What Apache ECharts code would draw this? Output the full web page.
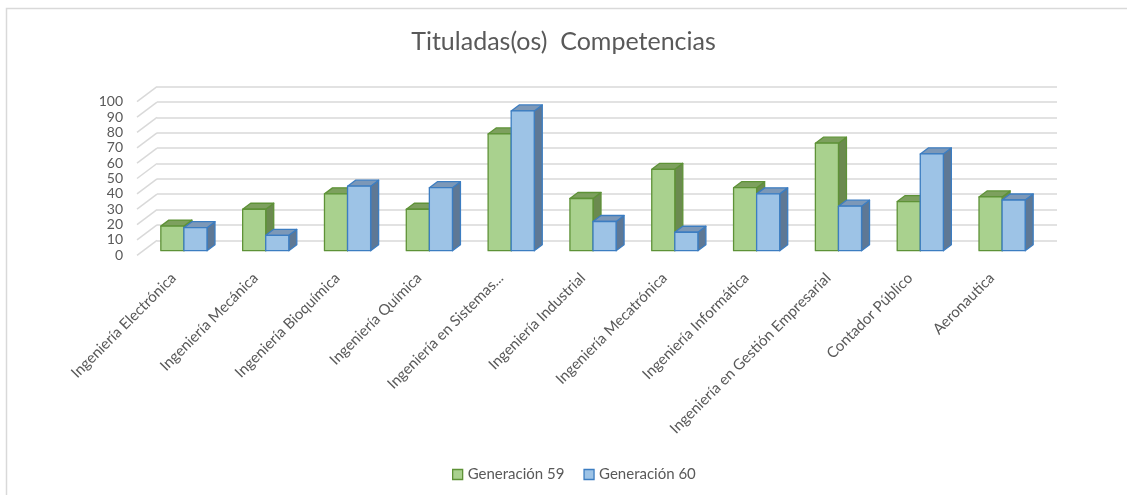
<!DOCTYPE html>
<html>
<head>
<meta charset="utf-8">
<script src="https://cdn.jsdelivr.net/npm/echarts@6/dist/echarts.min.js"></script>
<style>
html,body{margin:0;padding:0;background:#fff;}
#chart{width:1127px;height:495px;}
</style>
</head>
<body>
<div id="chart"></div>
<script>
const categories = [
  'Ingeniería Electrónica', 'Ingeniería Mecánica', 'Ingeniería Bioquímica', 'Ingeniería Química',
  'Ingeniería en Sistemas...', 'Ingeniería Industrial', 'Ingeniería Mecatrónica', 'Ingeniería Informática',
  'Ingeniería en Gestión Empresarial', 'Contador Público', 'Aeronautica'
];
const gen59 = [16, 27, 37, 27, 76, 34, 53, 41, 70, 32, 35];
const gen60 = [15, 10, 42, 41, 91, 19, 12, 37, 29, 63, 33];
const seriesNames = ['Generación 59', 'Generación 60'];
const yTicks = [0, 10, 20, 30, 40, 50, 60, 70, 80, 90, 100];

const FONT = 'Lato';
const TXT = '#595959';
const GRID_C = '#D9D9D9';
const DEPTH_X = 8, DEPTH_Y = 6;
const BAR_FRAC = 0.282;

const palettes = [
  { front: '#A9D18E', top: '#7DA05E', side: '#6B8A4F', border: '#5E9237' },
  { front: '#9DC3E6', top: '#7C98B8', side: '#5E7895', border: '#3C7DC1' }
];

function makeRender(idx) {
  const pal = palettes[idx];
  return function (params, api) {
    const cat = api.value(0), v = api.value(1);
    const band = api.size([1, 0])[0];
    const w = band * BAR_FRAC;
    const base = api.coord([cat, 0]);
    const top = api.coord([cat, v]);
    const x0 = base[0] + (idx === 0 ? -w : 0);
    const ty = top[1], by = base[1];
    const st = (fill) => ({ fill: fill, stroke: pal.border, lineWidth: 1.3, lineJoin: 'round' });
    return {
      type: 'group',
      children: [
        { type: 'polygon', shape: { points: [[x0 + w, ty], [x0 + w + DEPTH_X, ty - DEPTH_Y], [x0 + w + DEPTH_X, by - DEPTH_Y], [x0 + w, by]] }, style: st(pal.side) },
        { type: 'polygon', shape: { points: [[x0, ty], [x0 + DEPTH_X, ty - DEPTH_Y], [x0 + w + DEPTH_X, ty - DEPTH_Y], [x0 + w, ty]] }, style: st(pal.top) },
        { type: 'rect', shape: { x: x0, y: ty, width: w, height: by - ty }, style: st(pal.front) }
      ]
    };
  };
}

const chart = echarts.init(document.getElementById('chart'), null, { renderer: 'canvas' });
const option = {
  backgroundColor: '#fff',
  animation: false,
  textStyle: { fontFamily: FONT },
  title: {
    text: 'Tituladas(os)  Competencias',
    left: 'center', top: 29, padding: 0,
    textStyle: { fontFamily: FONT, fontSize: 25, fontWeight: 'normal', color: TXT }
  },
  legend: {
    data: seriesNames,
    left: 447, top: 462,
    itemWidth: 10, itemHeight: 10, itemGap: 19,
    icon: 'rect',
    textStyle: { fontFamily: FONT, fontSize: 15, color: TXT },
    itemStyle: { borderWidth: 1.3 }
  },
  graphic: [{
    type: 'rect', shape: { x: 6.5, y: 8.5, width: 1130, height: 500 },
    style: { fill: 'none', stroke: GRID_C, lineWidth: 1.5 }, silent: true, z: -10
  }],
  grid: [
    { left: 143, right: 84, top: 97.1, bottom: 244.3 },      // bar plane
    { left: 157, right: 70, top: 86.7, bottom: 254.7 },      // back wall
    { left: 137, right: 90, top: 101.7, bottom: 239.7 }      // front plane (labels)
  ],
  xAxis: [
    { gridIndex: 0, type: 'category', data: categories, show: false },
    { gridIndex: 1, type: 'value', min: 0, max: 1, show: false },
    {
      gridIndex: 2, type: 'category', data: categories,
      axisLine: { show: false }, axisTick: { show: false },
      axisLabel: { interval: 0, rotate: 45, margin: 16, padding: [0, 6, 0, 0], fontFamily: FONT, fontSize: 15, color: TXT }
    }
  ],
  yAxis: [
    { gridIndex: 0, type: 'value', min: 0, max: 100, interval: 10, show: false },
    {
      gridIndex: 1, type: 'value', min: 0, max: 100, interval: 10,
      axisLine: { show: false }, axisTick: { show: false }, axisLabel: { show: false },
      splitLine: { show: true, lineStyle: { color: GRID_C, width: 1.5 } }
    },
    {
      gridIndex: 2, type: 'value', min: 0, max: 100, interval: 10,
      axisLine: { show: false }, axisTick: { show: false }, splitLine: { show: false },
      axisLabel: { margin: 14, fontFamily: FONT, fontSize: 14, color: TXT }
    }
  ],
  series: [
    {
      type: 'custom', name: 'diag', xAxisIndex: 1, yAxisIndex: 1, silent: true, z: 1,
      data: yTicks.map(v => [0, v]),
      renderItem: function (params, api) {
        const p = api.coord([0, api.value(1)]);
        return { type: 'line', shape: { x1: p[0], y1: p[1], x2: p[0] - 20, y2: p[1] + 15 }, style: { stroke: GRID_C, lineWidth: 1.5 } };
      }
    },
    {
      type: 'custom', name: seriesNames[0], xAxisIndex: 0, yAxisIndex: 0, z: 3,
      itemStyle: { color: palettes[0].front, borderColor: palettes[0].border, borderWidth: 1.3 },
      data: gen59.map((v, i) => [i, v]),
      renderItem: makeRender(0)
    },
    {
      type: 'custom', name: seriesNames[1], xAxisIndex: 0, yAxisIndex: 0, z: 4,
      itemStyle: { color: palettes[1].front, borderColor: palettes[1].border, borderWidth: 1.3 },
      data: gen60.map((v, i) => [i, v]),
      renderItem: makeRender(1)
    }
  ]
};
chart.setOption(option);
</script>
</body>
</html>
